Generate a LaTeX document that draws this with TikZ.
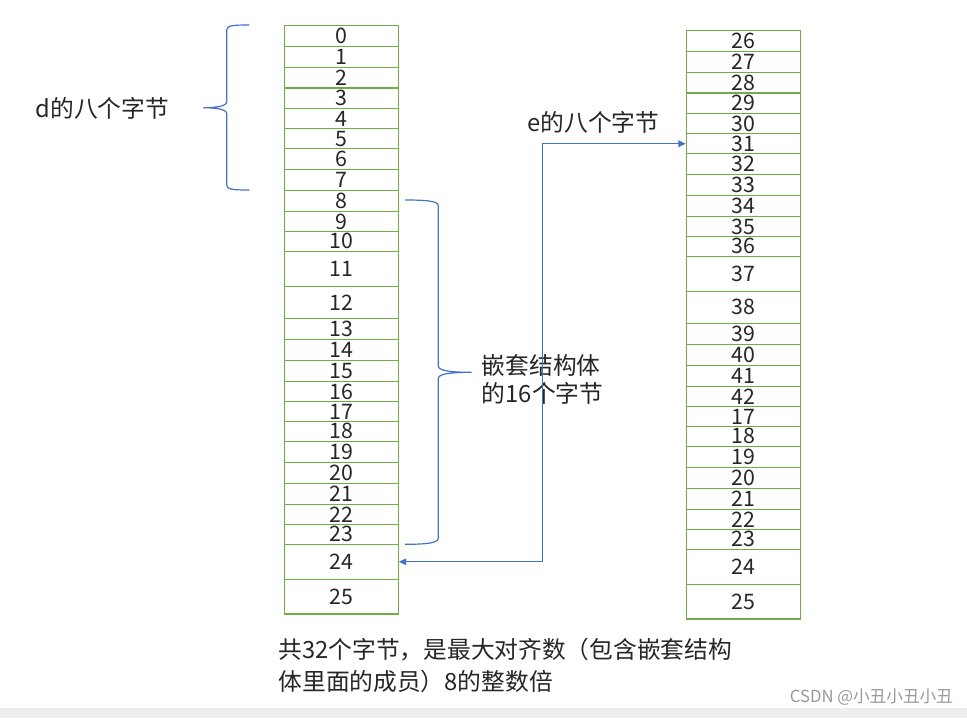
\documentclass[tikz,border=0pt]{standalone}
\usepackage{fontspec}
\setmainfont{Noto Sans CJK SC}
\usetikzlibrary{arrows.meta}
\definecolor{cellgreen}{HTML}{70AD47}
\definecolor{lineblue}{HTML}{4472C4}
\tikzset{
  cell/.style={draw=cellgreen, line width=0.9pt, minimum width=114*0.75pt, inner sep=0pt, font=\fontsize{16}{16}\selectfont, text=black!85},
  bracepath/.style={draw=lineblue, line width=0.9pt},
  conn/.style={draw=lineblue, line width=0.9pt, {Triangle[length=5.5pt,width=5pt]}-{Triangle[length=5.5pt,width=5pt]}},
  label/.style={inner sep=0pt, font=\fontsize{17.8}{21.4}\selectfont, text=black!85, align=left}
}
\begin{document}
\begin{tikzpicture}[x=0.75pt,y=-0.75pt]
\useasboundingbox (0,0) rectangle (967,718);
\fill[white] (0,0) rectangle (967,718);
% left column
\foreach \i/\lab/\t/\b in {0/0/25.3/46.3,1/1/46.3/67.3,2/2/67.3/88,3/3/88/108.7,4/4/108.7/128.7,5/5/128.7/148.7,6/6/148.7/169.3,7/7/169.3/190.3,8/8/190.3/211.5,9/9/211.5/231.3,10/10/231.3/251.3,11/11/251.3/286.3,12/12/286.3/318.3,13/13/318.3/339.3,14/14/339.3/360.3,15/15/360.3/381.7,16/16/381.7/401.7,17/17/401.7/421.3,18/18/421.3/441.3,19/19/441.3/462.3,20/20/462.3/483.3,21/21/483.3/504.3,22/22/504.3/524.3,23/23/524.3/544.3,24/24/544.3/579.3,25/25/579.3/614}
  {\node[cell, minimum height={(\b-\t)*0.75pt}] (L\i) at (341.3,{(\t+\b)/2}) {\lab};}
% right column
\foreach \i/\lab/\t/\b in {0/26/25.3/46.3,1/27/46.3/67.3,2/28/67.3/88,3/29/88/108.7,4/30/108.7/128.7,5/31/128.7/148.7,6/32/148.7/169.3,7/33/169.3/190.3,8/34/190.3/211.5,9/35/211.5/231.3,10/36/231.3/251.3,11/37/251.3/286.3,12/38/286.3/318.3,13/39/318.3/339.3,14/40/339.3/360.3,15/41/360.3/381.7,16/42/381.7/401.7,17/17/401.7/421.3,18/18/421.3/441.3,19/19/441.3/462.3,20/20/462.3/483.3,21/21/483.3/504.3,22/22/504.3/524.3,23/23/524.3/544.3,24/24/544.3/579.3,25/25/579.3/614}
  {\node[cell, minimum height={(\b-\t)*0.75pt}] (R\i) at (743.3,{(\t+\b)/2+5}) {\lab};}
% left brace (d)
\draw[bracepath] (249.3,25) .. controls (233,25) and (226.7,25.5) .. (226.7,30) -- (226.7,102)
  .. controls (226.7,106.5) and (214,107.7) .. (203.3,107.7)
  .. controls (214,107.7) and (226.7,109) .. (226.7,113.5) -- (226.7,185)
  .. controls (226.7,189.5) and (233,190) .. (249.3,190);
% right brace (nested struct)
\draw[bracepath] (405,200) .. controls (427,200) and (438.3,201) .. (438.3,206) -- (438.3,366)
  .. controls (438.3,371) and (452,372.3) .. (471.7,372.3)
  .. controls (452,372.3) and (438.3,373.5) .. (438.3,378.5) -- (438.3,538)
  .. controls (438.3,543) and (427,544.3) .. (405,544.3);
% labels
\node[label] (dlab) at (102.5,108) {d的八个字节};
\node[label] (elab) at (593.3,122) {e的八个字节};
\node[label, anchor=west] (nlab) at (481.7,379.5) {嵌套结构体\\的16个字节};
\node[label, anchor=west, font=\fontsize{17.8}{24}\selectfont] (tlab) at (278.3,665.5) {共32个字节，是最大对齐数（包含嵌套结构\\体里面的成员）8的整数倍};
% connector
\coordinate (bend) at (542.3,143.7);
\draw[conn] (L24.east) -| (bend) -- (R5.west);
% bottom bar and watermark
\fill[black!7] (0,708.3) rectangle (967,718);
\node[inner sep=0pt, anchor=east, font=\fontsize{12.5}{12.5}\selectfont, text=black!40] (wm) at (953.3,697) {CSDN @小丑小丑小丑};
\end{tikzpicture}
\end{document}
